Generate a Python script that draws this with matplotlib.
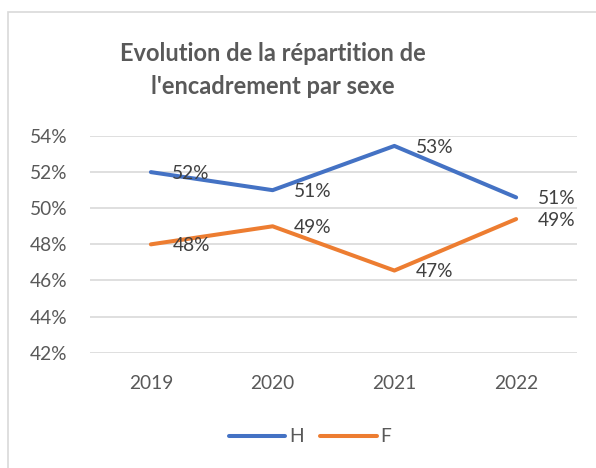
import matplotlib
matplotlib.use('Agg')
import matplotlib.pyplot as plt
from matplotlib.patches import Rectangle
from matplotlib.ticker import FuncFormatter

years = ['2019', '2020', '2021', '2022']
h_values = [52.0, 51.0, 53.45, 50.6]
f_values = [48.0, 49.0, 46.55, 49.4]
series_names = ['H', 'F']
title = "Evolution de la répartition de\nl'encadrement par sexe"

BLUE = '#4472C4'
ORANGE = '#ED7D31'
TEXT = '#595959'
LABEL = '#404040'
GRID = '#D9D9D9'

plt.rcParams['font.family'] = ['Lato', 'DejaVu Sans']

W, H = 596, 468
fig = plt.figure(figsize=(W / 100, H / 100), dpi=100)

# chart frame (runs off the right/bottom edges like the screenshot)
fig.patches.append(Rectangle((8 / W, -0.1), 1.2, 1 - 12 / H + 0.1,
                             transform=fig.transFigure, fill=False,
                             edgecolor=GRID, linewidth=1.2))

ax = fig.add_axes([90 / W, 1 - 352.7 / H, 487 / W, 216.7 / H])
x = list(range(len(years)))

for vals, color, name in [(h_values, BLUE, series_names[0]),
                          (f_values, ORANGE, series_names[1])]:
    ax.plot(x, vals, color=color, lw=2.9, solid_capstyle='round',
            solid_joinstyle='round', label=name, zorder=3)
    for xi, v in zip(x, vals):
        ax.annotate(f'{v:.0f}%', (xi, v), xytext=(15.5, -1), textcoords='offset points',
                    ha='left', va='center', fontsize=13.8, color=LABEL, zorder=4)

ax.set_xlim(-0.5, 3.5)
ax.set_ylim(42, 54)
ax.set_yticks(range(42, 55, 2))
ax.yaxis.set_major_formatter(FuncFormatter(lambda v, p: f'{v:.0f}%'))
ax.set_xticks(x)
ax.set_xticklabels(years)
ax.grid(axis='y', color=GRID, lw=1.2, zorder=0)
ax.tick_params(length=0, labelsize=13.8, labelcolor=TEXT)
ax.tick_params(axis='y', pad=16.5)
ax.tick_params(axis='x', pad=16)
for s in ax.spines.values():
    s.set_visible(False)

fig.text(273 / W, 1 - 70 / H, title, ha='center', va='center',
         multialignment='center', fontsize=17, fontweight='bold',
         color=TEXT, linespacing=1.5)

fig.legend(loc='center', bbox_to_anchor=(310 / W, 1 - 437 / H), ncol=2,
           frameon=False, fontsize=13.8, labelcolor=TEXT, handlelength=2.95,
           handletextpad=0.2, columnspacing=0.85)

fig.savefig('out.png', dpi=100)
